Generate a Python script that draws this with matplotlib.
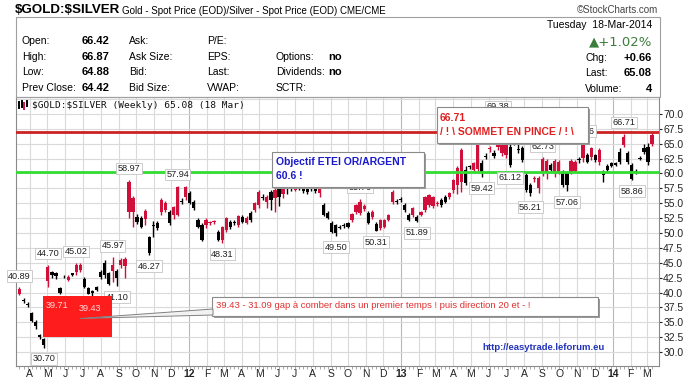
import matplotlib
matplotlib.use("Agg")
import matplotlib.pyplot as plt
import matplotlib.dates as mdates
from matplotlib.patches import Rectangle, Polygon
import numpy as np
import pandas as pd

plt.rcParams["text.parse_math"] = False
plt.rcParams["font.family"] = ["Liberation Sans", "DejaVu Sans"]

W, H = 700, 379

# weekly $GOLD:$SILVER candles
first_week = "2011-03-14"
opens = [39.8, 38.8, 38.1, 36.5, 35.0, 32.8, 32.2, 42.0, 43.4, 43.2,
         40.8, 42.8, 42.1, 43.2, 43.4, 43.8, 42.3, 40.8, 40.2, 40.9,
         43.5, 45.0, 43.3, 43.6, 43.6, 44.6, 44.5, 53.5, 53.5, 52.7,
         52.5, 52.3, 49.3, 51.4, 51.7, 53.5, 53.9, 53.5, 53.0, 53.0,
         55.4, 56.0, 56.7, 55.2, 52.2, 51.3, 51.3, 51.6, 51.8, 50.2,
         48.8, 50.5, 51.9, 51.8, 51.3, 52.7, 51.7, 53.4, 53.9, 54.7,
         56.0, 55.2, 56.9, 55.9, 57.6, 56.5, 57.8, 57.7, 57.2, 57.8,
         58.0, 57.7, 57.5, 57.6, 56.7, 54.7, 53.4, 51.7, 51.3, 51.0,
         51.3, 51.7, 52.2, 53.5, 53.4, 54.0, 53.4, 52.7, 51.5, 50.8,
         51.0, 52.2, 55.2, 55.3, 55.6, 54.7, 53.0, 53.0, 52.7, 53.0,
         53.9, 54.7, 54.5, 54.9, 55.5, 56.0, 56.0, 57.2, 58.0, 58.6,
         60.6, 61.2, 60.6, 60.7, 61.8, 62.9, 64.1, 63.4, 64.5, 63.4,
         63.1, 64.5, 65.2, 64.1, 64.3, 59.7, 58.1, 59.0, 57.6, 60.0,
         60.3, 61.4, 60.3, 60.2, 60.3, 60.1, 60.2, 60.4, 62.3, 62.6,
         63.1, 62.8, 63.1, 61.9, 60.3, 61.3, 61.8, 61.8, 63.6, 64.8,
         63.4, 61.4, 60.4, 62.6, 64.3, 64.5, 64.9]
highs = [40.89, 39.0, 38.4, 36.8, 35.3, 33.1, 32.4, 44.70, 43.6, 43.5,
         41.0, 43.0, 42.9, 43.3, 45.02, 44.9, 42.6, 41.0, 40.4, 41.1,
         43.8, 45.5, 43.5, 45.97, 43.9, 45.8, 45.9, 58.97, 56.2, 53.2,
         52.9, 54.0, 49.5, 52.0, 52.0, 55.8, 55.3, 53.8, 54.6, 57.94,
         55.8, 57.9, 57.0, 55.5, 52.5, 51.6, 52.5, 52.0, 52.2, 50.5,
         51.2, 52.7, 52.2, 52.1, 53.1, 53.0, 52.8, 53.7, 55.2, 57.2,
         56.6, 56.4, 57.3, 57.5, 57.9, 58.0, 58.3, 58.5, 58.6, 58.2,
         58.3, 58.1, 57.9, 57.9, 57.8, 55.0, 53.7, 52.0, 51.5, 51.4,
         51.6, 51.9, 53.4, 54.9, 55.76, 54.9, 53.7, 53.8, 51.8, 52.4,
         52.4, 53.2, 57.2, 55.7, 56.0, 55.0, 53.3, 54.4, 53.0, 53.7,
         56.2, 56.6, 56.2, 55.3, 55.8, 56.3, 56.9, 59.1, 61.2, 64.3,
         61.2, 61.5, 62.0, 66.0, 62.2, 63.4, 64.6, 63.9, 69.38, 65.6,
         65.9, 65.0, 65.6, 65.0, 64.6, 60.0, 58.4, 59.6, 59.6, 62.73,
         62.5, 61.7, 62.4, 62.3, 60.6, 60.4, 62.4, 62.2, 62.8, 65.26,
         63.4, 64.5, 63.3, 64.2, 60.6, 61.6, 62.0, 62.0, 64.3, 66.71,
         63.7, 61.7, 60.8, 63.0, 64.9, 65.2, 66.8]
lows = [39.5, 38.3, 37.6, 35.0, 33.9, 32.2, 30.70, 41.0, 42.4, 42.3,
        39.7, 42.4, 41.9, 42.8, 43.0, 43.5, 40.7, 39.71, 39.43, 40.2,
        42.3, 42.5, 41.2, 41.8, 41.10, 44.2, 42.5, 52.5, 51.0, 51.5,
        50.8, 51.3, 46.27, 49.3, 50.5, 53.0, 53.6, 51.4, 52.4, 52.8,
        54.9, 55.5, 54.8, 53.9, 50.8, 48.6, 50.8, 51.3, 51.5, 48.6,
        48.31, 50.2, 50.7, 51.4, 51.0, 51.6, 51.5, 51.9, 53.5, 54.2,
        55.5, 54.2, 53.8, 53.5, 54.5, 55.8, 56.5, 57.0, 57.0, 57.2,
        56.8, 56.6, 57.0, 56.8, 56.0, 52.8, 52.3, 50.0, 49.50, 50.6,
        50.9, 50.8, 51.9, 53.2, 53.0, 53.7, 51.5, 52.4, 50.31, 50.5,
        50.8, 52.0, 54.8, 54.9, 55.2, 53.6, 52.0, 52.7, 51.89, 52.8,
        53.6, 54.4, 54.2, 54.6, 54.4, 55.0, 55.7, 56.8, 56.5, 56.9,
        58.0, 60.8, 60.3, 60.4, 59.42, 62.4, 63.6, 62.6, 64.0, 63.0,
        62.6, 61.12, 64.8, 63.5, 61.9, 56.9, 56.21, 58.5, 56.7, 59.5,
        59.0, 60.4, 59.4, 59.9, 57.8, 57.06, 59.9, 60.2, 61.7, 62.0,
        61.7, 62.3, 61.9, 61.5, 58.6, 60.3, 61.1, 61.2, 61.6, 64.5,
        61.6, 58.86, 59.9, 62.2, 63.3, 61.5, 64.7]
closes = [40.6, 38.6, 37.9, 35.2, 34.3, 32.5, 31.1, 44.3, 42.9, 42.8,
          40.0, 42.7, 42.6, 43.0, 44.7, 44.6, 40.9, 39.8, 40.0, 40.5,
          42.6, 43.0, 41.5, 44.7, 42.4, 45.5, 45.6, 58.5, 55.9, 51.8,
          51.0, 53.7, 46.6, 51.2, 50.8, 55.5, 55.0, 51.7, 54.4, 57.7,
          55.2, 57.7, 55.0, 54.2, 51.0, 48.8, 52.2, 51.8, 52.0, 48.8,
          51.0, 52.5, 51.0, 51.7, 52.9, 51.9, 52.5, 52.2, 55.0, 56.9,
          55.9, 56.1, 55.5, 57.2, 56.0, 57.8, 57.6, 57.5, 58.3, 57.7,
          57.0, 56.9, 57.4, 57.0, 57.7, 53.0, 52.5, 50.2, 50.0, 50.9,
          51.2, 51.0, 53.2, 54.7, 55.2, 54.5, 51.7, 53.6, 50.4, 52.2,
          52.2, 53.0, 56.9, 55.2, 55.5, 53.9, 52.2, 54.2, 52.0, 53.5,
          56.0, 56.4, 56.0, 55.1, 54.7, 55.2, 56.7, 58.9, 61.0, 64.0,
          58.4, 61.1, 61.8, 65.2, 60.3, 62.7, 64.3, 62.9, 65.6, 65.3,
          65.6, 61.4, 65.0, 64.0, 62.3, 57.2, 56.7, 59.3, 59.2, 62.5,
          62.1, 60.6, 62.1, 62.0, 58.1, 58.1, 62.1, 61.9, 62.2, 64.9,
          61.9, 64.3, 62.3, 63.9, 59.8, 60.6, 61.3, 61.4, 61.9, 66.1,
          61.9, 59.0, 60.3, 62.5, 63.6, 61.9, 66.5]

# swing labels: (week index, value, above the candle?)
swing_labels = [(0, 40.89, True), (6, 30.70, False), (7, 44.70, True),
                (14, 45.02, True), (23, 45.97, True), (24, 41.10, False),
                (27, 58.97, True), (32, 46.27, False), (39, 57.94, True),
                (50, 48.31, False), (78, 49.50, False), (84, 55.76, True),
                (88, 50.31, False), (98, 51.89, False), (114, 59.42, False),
                (118, 69.38, True), (121, 61.12, False), (126, 56.21, False),
                (129, 62.73, True), (135, 57.06, False), (139, 65.26, True),
                (149, 66.71, True), (151, 58.86, False)]

top_level = 67.0
support_level = 60.3

dates = pd.date_range(first_week, periods=len(opens), freq="7D")
o = np.array(opens); hi = np.array(highs); lo = np.array(lows); c = np.array(closes)


def fx(x):
    return x / W


def fy(y):
    return 1 - y / H


fig = plt.figure(figsize=(W / 100, H / 100), dpi=100)
fig.patch.set_facecolor("white")

ax = fig.add_axes([fx(16), fy(366), (659 - 16) / W, (366 - 97) / H])
ax.set_xlim(pd.Timestamp("2011-03-08"), pd.Timestamp("2014-03-22"))
ax.set_ylim(27.65, 72.85)

# grid
months = pd.date_range("2011-04-01", "2014-03-01", freq="MS")
for m in months:
    col = "#b8b8b8" if m.month == 1 else "#dadada"
    ax.axvline(m, color=col, lw=0.8, zorder=0)
for v in np.arange(27.5, 72.6, 2.5):
    ax.axhline(v, color="#dadada", lw=0.8, zorder=0)

# candles
xs = mdates.date2num(dates)
up = c >= o
cols = np.where(up, "#d0103a", "#000000")
ax.vlines(xs, lo, hi, colors=cols, lw=1, zorder=3)
body_lo = np.minimum(o, c)
body_h = np.maximum(np.abs(c - o), 0.15)
ax.bar(xs, body_h, bottom=body_lo, width=5.6, color=cols, lw=0, zorder=4)

ax.axhline(top_level, color="#cc2222", lw=2, zorder=5)
ax.axhline(support_level, color="#33dd33", lw=2, zorder=5)

for k, v, above in swing_labels:
    ax.annotate(f"{v:.2f}", xy=(xs[k], v), xytext=(0, 8 if above else -8),
                textcoords="offset points", ha="center", va="center",
                fontsize=6.6, color="#222222", zorder=6,
                bbox=dict(boxstyle="square,pad=0.15", fc="white", ec="#c4c4c4", lw=0.6))

# axes styling
ax.yaxis.tick_right()
ax.set_yticks(np.arange(30, 70.1, 2.5))
ax.set_yticklabels([f"{v:.1f}" for v in np.arange(30, 70.1, 2.5)])
ax.tick_params(axis="y", length=2, pad=1, labelsize=7.5, colors="#222222")
ax.set_xticks(mdates.date2num(months))
ax.set_xticklabels([str(m.year)[2:] if m.month == 1 else "JFMAMJJASOND"[m.month - 1]
                    for m in months])
for lab, m in zip(ax.get_xticklabels(), months):
    if m.month == 1:
        lab.set_fontweight("bold")
        lab.set_fontsize(9)
ax.tick_params(axis="x", length=0, pad=2, labelsize=7.5, colors="#222222")
ax.set_xticks(xs, minor=True)
ax.tick_params(axis="x", which="minor", length=2, color="#999999")
for s in ax.spines.values():
    s.set_color("#8a8a8a")
    s.set_linewidth(0.8)

fig.text(fx(32), fy(105), "$GOLD:$SILVER (Weekly) 65.08 (18 Mar)", family="DejaVu Sans Mono",
         fontsize=6.8, va="center", color="#111111")
for dx, h0, h1, cc in [(19, 102, 108, "#000000"), (21.5, 101, 107, "#000000"),
                       (24, 103, 109, "#d0103a"), (26.5, 101, 106, "#000000")]:
    fig.add_artist(plt.Line2D([fx(dx), fx(dx)], [fy(h0), fy(h1)], color=cc, lw=1.4))
fig.text(fx(482), fy(348), "http://easytrade.leforum.eu", color="#2233bb", fontsize=6.8,
         weight="bold", va="center")

# header
fig.text(fx(15), fy(10), "$GOLD:$SILVER", weight="bold", fontsize=9.6, va="center")
fig.text(fx(122), fy(11), "Gold - Spot Price (EOD)/Silver - Spot Price (EOD) CME/CME",
         fontsize=7, va="center")
fig.text(fx(658), fy(10), "\u00a9StockCharts.com", fontsize=7, va="center", ha="right",
         color="#444444")
fig.add_artist(Rectangle((fx(16), fy(97)), (660 - 16) / W, (97 - 17) / H,
                         transform=fig.transFigure, fc="none", ec="#a0a0a0", lw=0.8))

rows_y = [41, 57, 72, 88]
col1 = [("Open:", "66.42"), ("High:", "66.87"), ("Low:", "64.88"), ("Prev Close:", "64.42")]
col2 = ["Ask:", "Ask Size:", "Bid:", "Bid Size:"]
col3 = ["P/E:", "EPS:", "Last:", "VWAP:"]
col4 = [("", ""), ("Options:", "no"), ("Dividends:", "no"), ("SCTR:", "")]
for y, (a, b), t2, t3, (d, e) in zip(rows_y, col1, col2, col3, col4):
    fig.text(fx(22), fy(y), a, fontsize=7.5, va="center")
    fig.text(fx(82), fy(y), b, fontsize=8, weight="bold", va="center")
    fig.text(fx(129), fy(y), t2, fontsize=7.5, va="center")
    fig.text(fx(207), fy(y), t3, fontsize=7.5, va="center")
    fig.text(fx(276), fy(y), d, fontsize=7.5, va="center")
    fig.text(fx(328), fy(y), e, fontsize=8, weight="bold", va="center")

fig.text(fx(652), fy(25), "Tuesday  18-Mar-2014", fontsize=7.5, ha="right", va="center")
fig.text(fx(652), fy(42), "\u25b2+1.02%", fontsize=9.5, ha="right", va="center",
         color="#3b7d3b", family=["DejaVu Sans"])
for y, a, b in [(58, "Chg:", "+0.66"), (73, "Last:", "65.08"), (89, "Volume:", "4")]:
    fig.text(fx(585), fy(y), a, fontsize=7.5, va="center")
    fig.text(fx(652), fy(y), b, fontsize=8, weight="bold", ha="right", va="center")


def note_box(x0, y0, x1, y1):
    fig.add_artist(Rectangle((fx(x0 + 2), fy(y1 + 2)), (x1 - x0) / W, (y1 - y0) / H,
                             transform=fig.transFigure, fc="#9a9a9a", ec="none"))
    fig.add_artist(Rectangle((fx(x0), fy(y1)), (x1 - x0) / W, (y1 - y0) / H,
                             transform=fig.transFigure, fc="white", ec="#8a8a8a", lw=0.8))


# gap zone
fig.add_artist(Rectangle((fx(43), fy(337)), (112 - 43) / W, (337 - 296) / H,
                         transform=fig.transFigure, fc="#ff1c1c", ec="none"))
fig.text(fx(57), fy(305.5), "39.71", fontsize=6.6, ha="center", va="center", color="#ffd6d6")
fig.text(fx(90), fy(308.5), "39.43", fontsize=6.6, ha="center", va="center", color="#ffd6d6")

note_box(212, 297, 598, 316)
fig.add_artist(Polygon([(fx(213), fy(309)), (fx(213), fy(315)), (fx(80), fy(318.5))],
                       closed=True, transform=fig.transFigure, fc="#f2f2f2", ec="#808080", lw=0.7))
fig.text(fx(216), fy(305.5),
         "39.43 - 31.09 gap \u00e0 comber dans un premier temps ! puis direction 20 et - !",
         fontsize=6.8, color="#e03030", va="center")

note_box(272, 152, 424, 187)
fig.text(fx(276), fy(162), "Objectif ETEI OR/ARGENT", fontsize=7.5, weight="bold",
         color="#1a1acc", va="center")
fig.text(fx(276), fy(176), "60.6 !", fontsize=7.5, weight="bold", color="#1a1acc", va="center")

note_box(437, 107, 588, 143)
fig.text(fx(440), fy(118), "66.71", fontsize=7.5, weight="bold", color="#e02020", va="center")
fig.text(fx(440), fy(132), "/ ! \\ SOMMET EN PINCE / ! \\", fontsize=7.5, weight="bold",
         color="#e02020", va="center")

fig.savefig("out.png", dpi=100)
